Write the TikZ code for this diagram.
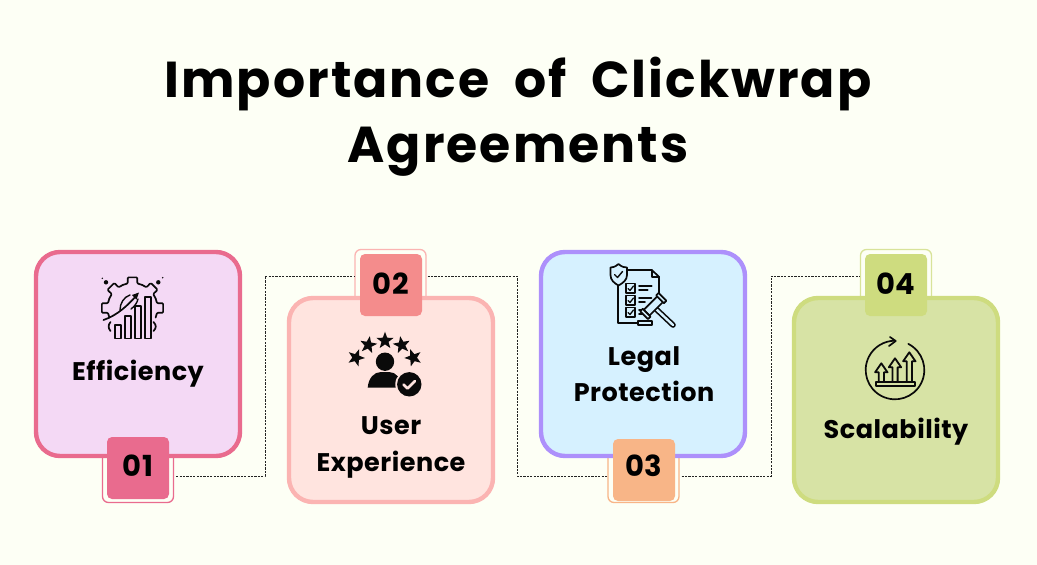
\documentclass[tikz,border=0pt]{standalone}
\usepackage{fontspec}
\setmainfont{Poppins}[LetterSpace=2]
\newfontfamily\titlefont{Poppins}[LetterSpace=4]
\definecolor{pagebg}{HTML}{FDFFF5}
\definecolor{fillA}{HTML}{F4D9F5}\definecolor{lineA}{HTML}{E96B8E}\definecolor{tagA}{HTML}{E96B8E}
\definecolor{fillB}{HTML}{FFE4DF}\definecolor{lineB}{HTML}{FBB4B2}\definecolor{tagB}{HTML}{F48C8C}
\definecolor{fillC}{HTML}{D6F1FF}\definecolor{lineC}{HTML}{AD90FB}\definecolor{tagC}{HTML}{F8B587}
\definecolor{fillD}{HTML}{D7E3A5}\definecolor{lineD}{HTML}{CEDC7F}\definecolor{tagD}{HTML}{CEDC7F}
\definecolor{ink}{HTML}{0A0A0A}
\tikzset{
  card/.style={draw, line width=4.4pt, rounded corners=24pt, minimum width=204pt, minimum height=204pt, inner sep=0pt},
  tag/.style={rounded corners=5pt, minimum width=62pt, minimum height=62pt, inner sep=0pt},
  halo/.style={draw, fill=pagebg, line width=1.3pt, rounded corners=6pt, minimum width=71pt, minimum height=53pt, inner sep=0pt},
  link/.style={draw=ink!90, line width=1pt, dash pattern=on 2.2pt off 1.2pt},
  title/.style={anchor=base, font=\titlefont\bfseries\fontsize{50.5}{50.5}\selectfont, text=black, inner sep=0pt},
  label/.style={anchor=base, font=\bfseries\fontsize{25.5}{25.5}\selectfont, text=black, inner sep=0pt},
  num/.style={anchor=base, font=\bfseries\fontsize{29}{29}\selectfont, text=black, inner sep=0pt},
  glyph/.style={draw=ink, line width=1.7pt, line join=round, line cap=round},
}
\newcommand{\mystar}[3]{\fill[ink, shift={(#1,#2)}, rotate=#3] (-90:9) -- (-54:3.7) -- (-18:9) -- (18:3.7) -- (54:9) -- (90:3.7) -- (126:9) -- (162:3.7) -- (198:9) -- (234:3.7) -- cycle;}
\newcommand{\mytooth}[1]{\draw[glyph, shift={(132.5,308)}, rotate=#1, rounded corners=1pt] (-22.5:25) -- (-11:25) -- (-9:31) -- (9:31) -- (11:25) -- (22.5:25);}
\newcommand{\mybox}[1]{\draw[glyph, line width=1.8pt] (626,#1) rectangle ++(9,9.5); \draw[glyph, line width=1.3pt] (628,#1+5) -- (630,#1+7) -- (633.5,#1+2.5);}
\newcommand{\myup}[2]{\draw[glyph, line width=1.8pt] (#1-2.6,381.7) -- (#1-2.6,#2+9) -- (#1-6.2,#2+9) -- (#1,#2) -- (#1+6.2,#2+9) -- (#1+2.6,#2+9) -- (#1+2.6,381.7);}
\begin{document}
\begin{tikzpicture}[x=1pt,y=-1pt]
\useasboundingbox (0,0) rectangle (1037,565);
\fill[pagebg] (0,0) rectangle (1037,565);
\node[title] (t1) at (518,97) {Importance\hspace{12pt} of\hspace{12pt} Clickwrap};
\node[title] (t2) at (518,162) {Agreements};

% halos behind the cards
\node[halo, draw=lineA] (h1) at (138,476) {};
\node[halo, draw=lineB] (h2) at (390.5,276) {};
\node[halo, draw=tagC] (h3) at (643.5,476) {};
\node[halo, draw=lineD!80!white] (h4) at (896,276) {};

% connectors
\coordinate (j1) at (265,376);
\coordinate (j2) at (517,376);
\coordinate (j3) at (771,376);
\draw[link] (h1.east) ++(2,0) -| (j1) |- (h2.west);
\draw[link] (h2.east) ++(1,0) -| (j2) |- (h3.west);
\draw[link] (h3.east) ++(2,0) -| (j3) |- (h4.west);

% cards
\node[card, draw=lineA, fill=fillA] (c1) at (138,354) {};
\node[card, draw=lineB, fill=fillB] (c2) at (391,400) {};
\node[card, draw=lineC, fill=fillC] (c3) at (643,354) {};
\node[card, draw=lineD, fill=fillD] (c4) at (896,400) {};

% number tags
\node[tag, fill=tagA] (n1) at (138,468) {};
\node[tag, fill=tagB] (n2) at (391,285) {};
\node[tag, fill=tagC] (n3) at (644,470) {};
\node[tag, fill=tagD] (n4) at (896,285) {};
\node[num] at (138,476.5) {01};
\node[num] at (391,294.8) {02};
\node[num] at (644,476.5) {03};
\node[num] at (896,294.8) {04};

% labels
\node[label] at (138,380) {Efficiency};
\node[label] at (391,434.3) {User};
\node[label] at (391,471) {Experience};
\node[label] at (644,365) {Legal};
\node[label] at (644,401) {Protection};
\node[label] at (896,438.5) {Scalability};

% efficiency icon
\foreach \a in {0,45,90,135,180} {\mytooth{\a}}
\draw[glyph] (110.5,322) .. controls (108,325) and (108,328) .. (110.5,331);
\draw[glyph] (153.5,322) .. controls (156.5,325) and (156.5,328) .. (153.5,331);
\draw[glyph, fill=fillA] (115,325) rectangle (120.7,338.5);
\draw[glyph, fill=fillA] (125,315.7) rectangle (131,338.5);
\draw[glyph, fill=fillA] (135,306) rectangle (140.7,338.5);
\draw[glyph, fill=fillA] (145,296.7) rectangle (150.7,338.5);
\draw[glyph] (103.5,320) .. controls (118,315) and (128,305) .. (137,295);
\fill[ink] (139,292.5) -- (132,295) -- (136.5,299.5) -- cycle;
\draw[glyph, line width=1.4pt] (120,310) .. controls (120,303) and (124,297) .. (130,295);
\draw[glyph, line width=1.4pt] (131,309) .. controls (135,306) and (137,303) .. (138,299);
\fill[ink] (106,282.3) circle (2.2);
\fill[ink] (158.3,282.3) circle (2.2);
\fill[ink] (102.3,278.3) circle (0.8);
\fill[ink] (162.7,277.7) circle (0.8);

% user experience icon
\mystar{356}{357.7}{-20}
\mystar{368.3}{345}{-10}
\mystar{385}{340.7}{0}
\mystar{401.7}{345}{10}
\mystar{413.3}{357.7}{20}
\fill[ink] (385,361.7) circle (9.2);
\fill[ink] (367.7,387.7) .. controls (368.5,378) and (374,372) .. (381,372) -- (389,372) .. controls (396,372) and (401,378) .. (402,387.7) -- cycle;
\fill[fillB] (409.3,384.3) circle (14);
\fill[ink] (409.3,384.3) circle (12.2);
\draw[fillB, line width=2.6pt, line cap=round, line join=round] (403.5,384.5) -- (407.5,388.5) -- (415,381);

% legal protection icon
\draw[glyph] (624,270) -- (651.7,270) -- (659,276.7) -- (659,297);
\draw[glyph] (651.7,270) -- (651.7,276.7) -- (659,276.7);
\draw[glyph] (618.3,284) -- (618.3,322.7) -- (650,322.7);
\draw[glyph, fill=fillC] (638.3,321) rectangle (651.7,325);
\draw[glyph, fill=fillC] (618.5,264) .. controls (615,267) and (612.5,267.5) .. (610.5,267.5) -- (610.5,275) .. controls (610.5,280) and (614,283) .. (618.5,285.5) .. controls (623,283) and (627,280) .. (627,275) -- (627,267.5) .. controls (624,267.5) and (622,267) .. (618.5,264) -- cycle;
\draw[glyph, line width=1.4pt] (614.5,274.5) -- (617.5,277.5) -- (622.5,271.5);
\mybox{283.5}
\mybox{295.5}
\mybox{307.5}
\draw[glyph] (639,285.7) -- (651.7,285.7);
\draw[glyph] (639,290) -- (647.7,290);
\draw[glyph] (639,297.7) -- (651.5,297.7);
\draw[glyph] (639,301.7) -- (645,301.7);
\draw[glyph] (639,310) -- (644,310);
\draw[glyph] (639,314) -- (646,314);
\draw[ink, line width=5.6pt, line cap=round] (656,309) -- (673,325);
\draw[fillC, line width=2.4pt, line cap=round] (656,309) -- (673,325);
\begin{scope}[shift={(653.3,306)}, rotate=45]
\draw[glyph, fill=fillC] (-9.5,-4) rectangle (9.5,4);
\draw[glyph, fill=fillC] (-13,-5.5) rectangle (-9.5,5.5);
\draw[glyph, fill=fillC] (9.5,-5.5) rectangle (13,5.5);
\end{scope}

% scalability icon
\draw[glyph] (895,370) ++(-63:29.3) arc[start angle=-63, end angle=270, radius=29.3];
\draw[glyph] (890,337) -- (895.7,341) -- (889,346);
\myup{881.3}{363.3}
\myup{895}{358.3}
\myup{909.3}{352.3}
\draw[glyph, line width=1.8pt] (875.7,381.7) rectangle (915,385.7);
\end{tikzpicture}
\end{document}
